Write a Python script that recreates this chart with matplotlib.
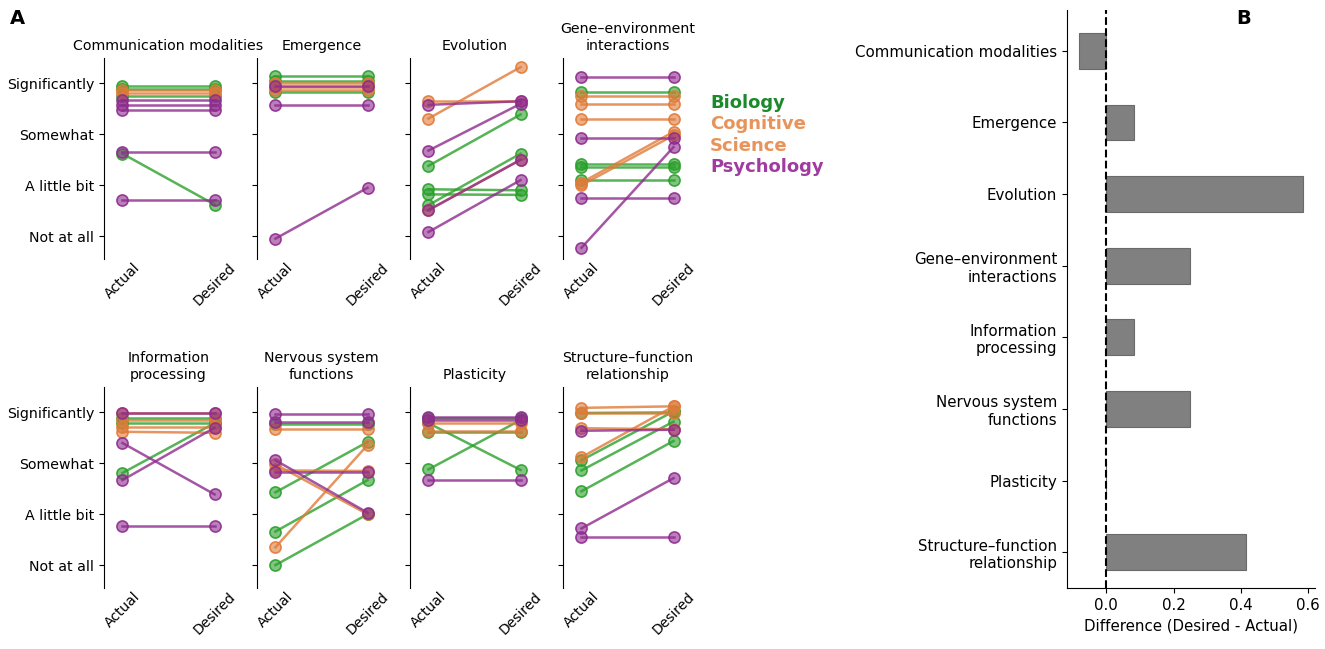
import matplotlib
matplotlib.use("Agg")
import matplotlib.pyplot as plt
from matplotlib.colors import to_rgba

# Topics (panel order) and likert labels
topics = ["Communication modalities", "Emergence", "Evolution",
          "Gene–environment\ninteractions", "Information\nprocessing",
          "Nervous system\nfunctions", "Plasticity",
          "Structure–function\nrelationship"]
likert_labels = ["Not at all", "A little bit", "Somewhat", "Significantly"]

# (actual, desired) pairs per respondent (1 = Not at all, 4 = Significantly)
comm_bio = [(3.95, 3.95), (3.90, 3.90), (3.75, 3.75), (2.62, 1.62)]
comm_cog = [(3.88, 3.88), (3.82, 3.82)]
comm_psy = [(3.67, 3.67), (3.58, 3.58), (3.47, 3.47), (2.65, 2.65), (1.71, 1.71)]

emer_bio = [(4.15, 4.15), (4.05, 4.05), (3.83, 3.83)]
emer_cog = [(4.00, 4.00), (3.93, 3.93), (3.88, 3.88)]
emer_psy = [(3.95, 3.95), (3.58, 3.58), (0.95, 1.95)]

evol_bio = [(2.38, 3.39), (1.92, 1.90), (1.82, 1.81), (1.61, 2.62)]
evol_cog = [(3.31, 4.32), (3.65, 3.65), (1.51, 2.50)]
evol_psy = [(3.58, 3.65), (2.68, 3.60), (1.51, 2.50), (1.08, 2.10)]

gene_bio = [(3.84, 3.84), (2.42, 2.42), (2.35, 2.35), (2.11, 2.11)]
gene_cog = [(3.75, 3.75), (3.59, 3.59), (3.31, 3.31), (2.05, 3.05), (2.00, 2.98)]
gene_psy = [(4.13, 4.13), (2.93, 2.93), (1.75, 1.75), (0.77, 2.75)]

info_bio = [(3.90, 3.90), (3.80, 3.80), (2.81, 3.79)]
info_cog = [(3.99, 3.99), (3.85, 3.85), (3.72, 3.72), (3.62, 3.60)]
info_psy = [(3.99, 3.99), (3.40, 2.39), (2.67, 3.70), (1.76, 1.76)]

nerv_bio = [(3.77, 3.77), (2.43, 3.42), (1.66, 2.67), (1.00, 2.00)]
nerv_cog = [(3.67, 3.67), (2.98, 2.00), (2.86, 2.85), (1.35, 3.36)]
nerv_psy = [(3.97, 3.97), (3.82, 3.82), (3.06, 2.03), (2.83, 2.83)]

plas_bio = [(3.90, 3.90), (3.61, 3.61), (3.79, 2.87), (2.88, 3.85)]
plas_cog = [(3.80, 3.80), (3.63, 3.63)]
plas_psy = [(3.91, 3.91), (3.85, 3.85), (2.68, 2.68)]

stru_bio = [(3.99, 4.00), (3.06, 4.02), (2.86, 3.82), (2.45, 3.44)]
stru_cog = [(4.09, 4.12), (3.69, 3.67), (3.12, 4.12), (3.99, 3.99)]
stru_psy = [(3.64, 3.66), (1.72, 2.71), (1.56, 1.56)]

# Panel B: mean difference (desired - actual) per topic
diffs = [-0.082, 0.081, 0.583, 0.248, 0.081, 0.248, 0.0, 0.415]

line_colors = ["#2ca02c", "#e07b39", "#8e2c8e"]
text_colors = ["#1a8a2a", "#e8935a", "#a03ca0"]

panels = [
    (comm_bio, comm_cog, comm_psy), (emer_bio, emer_cog, emer_psy),
    (evol_bio, evol_cog, evol_psy), (gene_bio, gene_cog, gene_psy),
    (info_bio, info_cog, info_psy), (nerv_bio, nerv_cog, nerv_psy),
    (plas_bio, plas_cog, plas_psy), (stru_bio, stru_cog, stru_psy),
]

plt.rcParams["font.family"] = "DejaVu Sans"
plt.rcParams["font.size"] = 10

W, H = 1325, 649
fig = plt.figure(figsize=(W / 100, H / 100), dpi=100)

lefts = [104, 257, 410, 563]
row_tops = [58, 387]
ax_w, ax_h = 129, 201

for i, groups in enumerate(panels):
    r, c = divmod(i, 4)
    ax = fig.add_axes([lefts[c] / W, 1 - (row_tops[r] + ax_h) / H, ax_w / W, ax_h / H])
    for pairs, col in zip(groups, line_colors):
        for a, d in pairs:
            ax.plot([0, 1], [a, d], color=to_rgba(col, 0.8), lw=1.8,
                    marker="o", ms=8, mfc=to_rgba(col, 0.6),
                    mec=to_rgba(col, 0.9), mew=1.2)
    ax.set_xlim(-0.2, 1.2)
    ax.set_ylim(0.55, 4.5)
    ax.set_xticks([0, 1])
    ax.set_xticklabels(["Actual", "Desired"], rotation=45)
    ax.tick_params(axis="x", length=0, pad=1)
    ax.set_yticks([1, 2, 3, 4])
    if c == 0:
        ax.set_yticklabels(likert_labels, fontsize=10.2)
    else:
        ax.set_yticklabels([])
    ax.set_title(topics[i], fontsize=10.2)
    for s in ["top", "right", "bottom"]:
        ax.spines[s].set_visible(False)

# discipline labels next to the top row
for k, (name, col) in enumerate(zip(["Biology", "Cognitive", "Science", "Psychology"],
                                     [text_colors[0], text_colors[1], text_colors[1], text_colors[2]])):
    fig.text(710 / W, 1 - (103 + 21.3 * k) / H, name, color=col, fontsize=13,
             fontweight="bold", va="center", ha="left")

fig.text(10 / W, 1 - 18 / H, "A", fontsize=14, fontweight="bold", va="center")
fig.text(1236 / W, 1 - 18 / H, "B", fontsize=14, fontweight="bold", va="center")

# Panel B
axb = fig.add_axes([1067 / W, 1 - 588 / H, (1315 - 1067) / W, (588 - 10) / H])
ypos = list(range(len(topics)))
axb.barh(ypos, diffs, height=0.5, color="#808080", edgecolor="#6a6a6a", lw=0.8)
axb.axvline(0, color="black", ls="--", lw=1.5)
axb.set_yticks(ypos)
axb.set_yticklabels(topics, fontsize=10.8)
axb.set_ylim(7.5, -0.57)
axb.set_xlim(-0.117, 0.62)
axb.set_xticks([0.0, 0.2, 0.4, 0.6])
axb.tick_params(axis="x", labelsize=10.8)
axb.set_xlabel("Difference (Desired - Actual)", fontsize=10.8)
for s in ["top", "right"]:
    axb.spines[s].set_visible(False)

fig.savefig("out.png", dpi=100)
